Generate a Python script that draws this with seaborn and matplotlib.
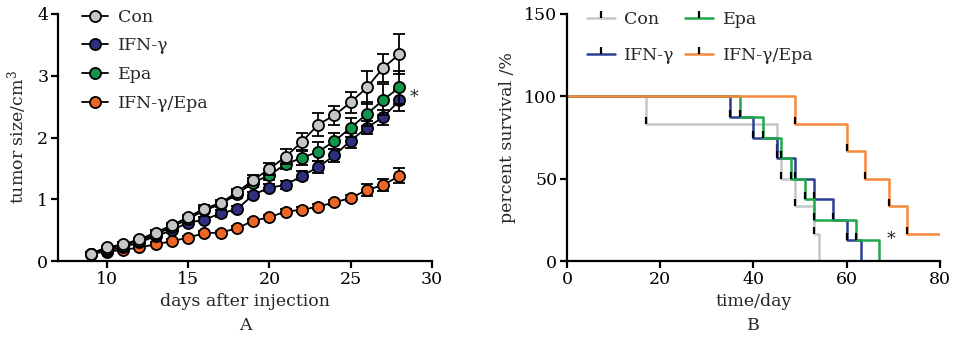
import numpy as np
import pandas as pd
import matplotlib
matplotlib.use("Agg")
import matplotlib.pyplot as plt
import seaborn as sns

sns.set_style("ticks")
plt.rcParams['font.family'] = ['DejaVu Serif']
plt.rcParams['mathtext.fontset'] = 'dejavuserif'

# ---------- Panel A data ----------
days = list(range(9, 29))
con_mean = [0.12, 0.22, 0.27, 0.35, 0.46, 0.58, 0.71, 0.85, 0.94, 1.11,
            1.31, 1.49, 1.69, 1.93, 2.21, 2.36, 2.57, 2.81, 3.13, 3.35]
con_err = [0.03, 0.03, 0.03, 0.03, 0.04, 0.04, 0.04, 0.05, 0.05, 0.06,
           0.08, 0.10, 0.12, 0.15, 0.18, 0.15, 0.17, 0.26, 0.23, 0.32]
ifn_mean = [0.12, 0.17, 0.22, 0.30, 0.40, 0.50, 0.62, 0.67, 0.77, 0.84,
            1.07, 1.19, 1.23, 1.38, 1.52, 1.71, 1.95, 2.16, 2.33, 2.60]
ifn_err = [0.02, 0.02, 0.03, 0.03, 0.03, 0.04, 0.04, 0.04, 0.05, 0.05,
           0.05, 0.06, 0.06, 0.07, 0.10, 0.10, 0.12, 0.11, 0.12, 0.17]
epa_mean = [0.12, 0.20, 0.25, 0.33, 0.43, 0.55, 0.68, 0.82, 0.92, 1.08,
            1.27, 1.39, 1.57, 1.67, 1.77, 1.94, 2.16, 2.38, 2.61, 2.81]
epa_err = [0.02, 0.03, 0.03, 0.03, 0.04, 0.04, 0.04, 0.05, 0.05, 0.06,
           0.07, 0.08, 0.08, 0.12, 0.15, 0.13, 0.15, 0.20, 0.25, 0.27]
combo_mean = [0.12, 0.15, 0.18, 0.22, 0.27, 0.32, 0.38, 0.45, 0.46, 0.53,
              0.65, 0.71, 0.80, 0.83, 0.88, 0.95, 1.02, 1.15, 1.23, 1.38]
combo_err = [0.02, 0.02, 0.02, 0.02, 0.03, 0.03, 0.03, 0.03, 0.03, 0.03,
             0.03, 0.03, 0.04, 0.04, 0.04, 0.04, 0.05, 0.10, 0.10, 0.12]

# ---------- Panel B data (Kaplan-Meier steps) ----------
con_t = [0, 17, 45, 46, 49, 53, 54]
con_s = [100, 83.3, 66.7, 50, 33.3, 16.7, 0]
ifn_t = [0, 35, 40, 45, 49, 53, 57, 60, 63]
ifn_s = [100, 87.5, 75, 62.5, 50, 37.5, 25, 12.5, 0]
epa_t = [0, 37, 42, 46, 48, 51, 53, 62, 67]
epa_s = [100, 87.5, 75, 62.5, 50, 37.5, 25, 12.5, 0]
combo_t = [0, 49, 60, 64, 69, 73, 80]
combo_s = [100, 83.3, 66.7, 50, 33.3, 16.7, 16.7]

labels = ["Con", "IFN-γ", "Epa", "IFN-γ/Epa"]
fill_cols = ["#c3c7c7", "#2e2f7e", "#11944c", "#ef6526"]
km_cols = ["#c4c8c8", "#2d3f92", "#1fa84a", "#f7883a"]

fig = plt.figure(figsize=(9.54, 3.40), dpi=100)
axA = fig.add_axes([58/954, 79/340, 374/954, 247/340])
axB = fig.add_axes([567/954, 79/340, 373/954, 247/340])

FS = 12.5

# ---------- Panel A ----------
seriesA = {
    "Con": (con_mean, con_err),
    "IFN-γ": (ifn_mean, ifn_err),
    "Epa": (epa_mean, epa_err),
    "IFN-γ/Epa": (combo_mean, combo_err),
}
draw_order = ["IFN-γ/Epa", "IFN-γ", "Epa", "Con"]
for z, name in enumerate(draw_order):
    m, e = seriesA[name]
    col = fill_cols[labels.index(name)]
    df = pd.DataFrame({"day": days, "size": m})
    axA.errorbar(days, m, yerr=e, fmt='none', ecolor='black', elinewidth=1.3,
                 capsize=4, capthick=1.3, zorder=2 + 2 * z)
    sns.lineplot(data=df, x="day", y="size", ax=axA, color='black', lw=1.3,
                 marker='o', markersize=8, markerfacecolor=col,
                 markeredgecolor='black', markeredgewidth=1.3,
                 label=name, zorder=3 + 2 * z)
h, l = axA.get_legend_handles_labels()
hd = dict(zip(l, h))
axA.legend([hd[n] for n in labels], labels, loc='upper left',
           bbox_to_anchor=(0.045, 1.05), frameon=False, fontsize=FS,
           handlelength=1.5, labelspacing=0.68, handletextpad=0.6,
           borderaxespad=0.0)
axA.text(28.6, 2.65, "*", fontsize=FS, va='center', ha='left')

axA.set_xlim(7, 30)
axA.set_ylim(0, 4)
axA.set_xticks([10, 15, 20, 25, 30])
axA.set_yticks([0, 1, 2, 3, 4])
axA.set_xlabel("days after injection", fontsize=FS, labelpad=4)
axA.set_ylabel("tumor size/cm$^3$", fontsize=FS, labelpad=6)
axA.text(0.5, -0.262, "A", transform=axA.transAxes, ha='center', va='center', fontsize=FS)

# ---------- Panel B ----------
seriesB = {
    "Con": (con_t, con_s),
    "IFN-γ": (ifn_t, ifn_s),
    "Epa": (epa_t, epa_s),
    "IFN-γ/Epa": (combo_t, combo_s),
}
for name in labels:
    t, s = seriesB[name]
    col = km_cols[labels.index(name)]
    df = pd.DataFrame({"t": t, "s": s})
    sns.lineplot(data=df, x="t", y="s", ax=axB, color=col, lw=1.8,
                 drawstyle='steps-post', label=name, marker=2, markersize=5,
                 markeredgecolor='black', markeredgewidth=1.6,
                 markevery=list(range(1, len(t) - 1)))
axB.legend(loc='upper left', ncol=2, bbox_to_anchor=(0.035, 1.04), frameon=False,
           fontsize=FS, handlelength=1.6, columnspacing=0.6, labelspacing=1.1,
           handletextpad=0.55, borderaxespad=0.0)
axB.text(68.5, 13, "*", fontsize=FS, va='center', ha='left')
axB.set_xlim(0, 80)
axB.set_ylim(0, 150)
axB.set_xticks([0, 20, 40, 60, 80])
axB.set_yticks([0, 50, 100, 150])
axB.set_xlabel("time/day", fontsize=FS, labelpad=4)
axB.set_ylabel("percent survival /%", fontsize=FS, labelpad=6)
axB.text(0.5, -0.262, "B", transform=axB.transAxes, ha='center', va='center', fontsize=FS)

for ax in (axA, axB):
    sns.despine(ax=ax)
    for sp in ("left", "bottom"):
        ax.spines[sp].set_linewidth(1.6)
        ax.spines[sp].set_color('black')
    ax.tick_params(axis='both', direction='out', length=5, width=1.6,
                   labelsize=FS, colors='black', pad=2)

fig.savefig("out.png", dpi=100)
